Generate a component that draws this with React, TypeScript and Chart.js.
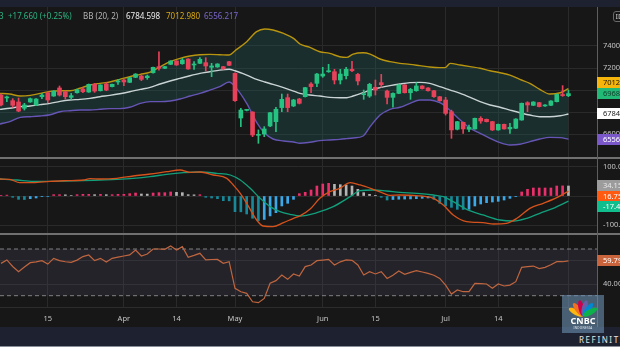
import React, { useEffect, useRef, useState } from 'react';
import { Chart, registerables } from 'chart.js';

Chart.register(...registerables);

// ---------- DATA ----------
const opens = [
  6956, 6930, 6905, 6893, 6836, 6893, 6866, 6941, 6977, 6947,
  7020, 6986, 6935, 6977, 7010, 6983, 7053, 6995, 7056, 7032,
  7074, 7092, 7071, 7116, 7128, 7113, 7158, 7213, 7198, 7234,
  7264, 7240, 7282, 7228, 7243, 7249, 7207, 7210, 7213, 7258,
  7152, 6748, 6817, 6802, 6591, 6603, 6676, 6715, 6842, 6932,
  6857, 6920, 6941, 7056, 7062, 7128, 7167, 7167, 7092, 7131,
  7189, 7143, 6959, 6947, 7026, 7068, 6992, 6935, 6971, 7047,
  6977, 6995, 7038, 7020, 6995, 6941, 6911, 6805, 6646, 6709,
  6646, 6649, 6745, 6736, 6715, 6640, 6691, 6649, 6655, 6730,
  6887, 6863, 6887, 6857, 6863, 6896, 6956, 6950,
];
const highs = [
  6965, 6947, 6923, 6929, 6881, 6929, 6923, 6971, 6986, 6995,
  7038, 6992, 6971, 7010, 7023, 7056, 7062, 7050, 7068, 7056,
  7098, 7101, 7116, 7150, 7137, 7137, 7210, 7348, 7216, 7267,
  7267, 7288, 7285, 7258, 7294, 7294, 7243, 7240, 7216, 7261,
  7158, 6836, 6827, 6805, 6640, 6670, 6800, 6845, 6965, 6965,
  6917, 6926, 7026, 7068, 7152, 7207, 7234, 7189, 7189, 7207,
  7261, 7152, 7001, 7062, 7092, 7143, 7001, 6977, 7050, 7050,
  7017, 7068, 7041, 7023, 6998, 6944, 6935, 6820, 6718, 6712,
  6685, 6748, 6760, 6739, 6718, 6694, 6694, 6700, 6742, 6884,
  6896, 6896, 6890, 6869, 6905, 6965, 7041, 7001,
];
const lows = [
  6857, 6896, 6845, 6805, 6820, 6890, 6860, 6923, 6887, 6944,
  6947, 6920, 6917, 6974, 6977, 6980, 6980, 6992, 6995, 7030,
  7053, 7041, 7068, 7113, 7086, 7098, 7155, 7182, 7195, 7231,
  7225, 7234, 7189, 7189, 7240, 7173, 7122, 7207, 7189, 7222,
  6899, 6670, 6812, 6579, 6519, 6579, 6670, 6624, 6805, 6805,
  6851, 6875, 6938, 6977, 7032, 7116, 7161, 7056, 7056, 7101,
  7167, 7047, 6917, 6935, 6956, 7026, 6875, 6845, 6968, 6974,
  6917, 6990, 7010, 6990, 6935, 6899, 6775, 6564, 6640, 6609,
  6624, 6646, 6700, 6712, 6634, 6637, 6646, 6609, 6652, 6727,
  6805, 6860, 6848, 6854, 6860, 6893, 6944, 6941,
];
const closes = [
  6866, 6935, 6863, 6811, 6866, 6923, 6920, 6956, 6911, 6992,
  6956, 6941, 6950, 7004, 6986, 7053, 6992, 7047, 7001, 7053,
  7083, 7074, 7113, 7146, 7098, 7128, 7207, 7198, 7213, 7264,
  7228, 7273, 7192, 7234, 7279, 7219, 7219, 7237, 7192, 7225,
  6905, 6820, 6822, 6594, 6600, 6649, 6796, 6827, 6917, 6842,
  6911, 6881, 7023, 7032, 7146, 7146, 7176, 7092, 7146, 7189,
  7176, 7083, 6965, 7053, 7001, 7050, 6935, 6971, 7047, 6977,
  7007, 7038, 7014, 6995, 6941, 6905, 6790, 6640, 6715, 6649,
  6664, 6745, 6721, 6715, 6640, 6691, 6649, 6664, 6739, 6881,
  6866, 6893, 6851, 6866, 6902, 6962, 6951.123, 6968.783,
];

// Bollinger Bands (20, 2), sampled along the candle index axis
const bbX = [
  -0.2, 1.5, 3.3, 5, 6.7, 8.4, 10.1, 11.8, 13.5, 15.2,
  16.9, 18.6, 20.3, 22, 23.8, 25.5, 27.2, 28.9, 30.6, 32.3,
  34, 35.7, 37.4, 39, 40, 42, 43.7, 45.1, 46.5, 48.3,
  50, 51.1, 52.8, 54.5, 56.2, 57.9, 59.1, 60.2, 61.9, 63.1,
  64.8, 66.5, 68.2, 69.9, 71.6, 73.3, 75, 75.9, 76.8, 78.5,
  80.2, 81.9, 83.6, 85.3, 87, 88.7, 90.4, 92.1, 93.8, 95.6,
  97,
];
const bbUpper = [
  6971, 6965, 6947, 6953, 6971, 6989, 6995, 6995, 7017, 7047,
  7062, 7074, 7098, 7122, 7143, 7164, 7213, 7258, 7288, 7309,
  7321, 7324, 7321, 7318, 7357, 7439, 7530, 7554, 7545, 7514,
  7469, 7418, 7388, 7348, 7333, 7303, 7297, 7327, 7339, 7327,
  7282, 7258, 7243, 7234, 7222, 7210, 7204, 7204, 7243, 7228,
  7213, 7198, 7176, 7158, 7137, 7098, 7062, 7007, 6965, 6977,
  7012.98,
];
const bbMiddle = [
  6826, 6836, 6851, 6857, 6869, 6881, 6899, 6911, 6917, 6926,
  6941, 6953, 6968, 6986, 7007, 7026, 7056, 7083, 7107, 7131,
  7152, 7167, 7182, 7189, 7176, 7137, 7098, 7074, 7053, 7023,
  6992, 6971, 6956, 6947, 6935, 6932, 6932, 6947, 6977, 7001,
  7023, 7041, 7056, 7068, 7071, 7062, 7032, 7017, 7001, 6971,
  6935, 6896, 6866, 6845, 6820, 6796, 6775, 6760, 6760, 6769,
  6784.598,
];
const bbLower = [
  6694, 6715, 6754, 6760, 6766, 6778, 6805, 6814, 6820, 6820,
  6827, 6833, 6833, 6845, 6881, 6896, 6896, 6902, 6920, 6947,
  6971, 7001, 7032, 7074, 7032, 6881, 6709, 6609, 6558, 6540,
  6531, 6519, 6528, 6543, 6549, 6555, 6561, 6567, 6585, 6670,
  6775, 6827, 6845, 6881, 6911, 6911, 6887, 6857, 6815, 6730,
  6655, 6609, 6564, 6525, 6504, 6510, 6534, 6558, 6573, 6570,
  6556.217,
];

// MACD
const macdX = [
  -0.2, 1.5, 3.2, 5.5, 8.4, 11.2, 14.1, 15.2, 16.9, 19.8,
  22.6, 25.5, 28.3, 30.6, 32.3, 34, 36.3, 38.6, 39.7, 40.9,
  42, 43.7, 44.8, 46.5, 48.3, 50, 51.1, 52.8, 54.5, 56.2,
  57.9, 59.7, 61.4, 63.6, 65.4, 66.5, 68.2, 71.1, 73.9, 75.6,
  77.3, 79.6, 82.4, 84.2, 86.4, 88.2, 90.4, 92.7, 95, 97,
];
const macdLine = [
  58, 56.9, 45.5, 45.5, 50.1, 52.4, 54.6, 59.2, 58, 60.3,
  68.3, 75.1, 83.1, 88.8, 80.8, 81.9, 71.7, 60.3, 37.6, 9.1,
  -25, -81.9, -102.4, -104.6, -91, -76.2, -68, -45.5, -8, 14.8,
  26.2, 45.5, 37.6, 22.8, 9.1, 2.3, 3.4, 1.2, -8, -30.7,
  -64.8, -87.6, -91, -95.5, -93.3, -76.2, -42.1, -25, -5.7, 16.75,
];
const signalX = [
  -0.2, 2.7, 5.5, 8.4, 11.2, 14.1, 16.9, 19.8, 22.6, 25.5,
  28.3, 31.2, 34, 36.9, 39.2, 40.9, 42.6, 44.3, 46, 47.7,
  49.4, 51.1, 54, 56.8, 59.7, 61.4, 63.6, 65.9, 68.2, 71.1,
  73.9, 75.6, 77.3, 79.6, 82.4, 85.3, 87.6, 89.9, 92.1, 94.4,
  97,
];
const signalLine = [
  58, 54.6, 50.1, 50.1, 51.2, 52.4, 54.6, 56.9, 60.3, 66,
  74, 79.7, 81.9, 77.4, 71.7, 54.6, 26.2, -8, -36.4, -53.4,
  -62.5, -68.2, -56.9, -36.4, -2.3, 18.2, 20.5, 17.1, 12.5, 9.1,
  3.4, -2.3, -19.3, -45.5, -64.8, -81.9, -85.3, -76.2, -59.1, -42.1,
  -17.4,
];
const histogram = [
  1, 3, -4.5, -11.4, -12, -9.1, -6.8, -2.3, -1.5, 4.5,
  4.5, 4, 1.5, 4.5, 5.7, 5.7, 4.5, 5.7, 4.5, 4.5,
  5.7, 5.7, 8, 10.2, 6.8, 6.5, 10.2, 11.4, 11.4, 13.7,
  12.5, 11.4, 4.5, 4, 4.5, -4.5, -6.8, -9.1, -15.9, -16.5,
  -53.5, -54, -61.4, -76, -84, -80, -68, -57, -34, -25,
  -11.4, 8, 12.5, 20.5, 34.1, 41, 43.2, 39.8, 38.7, 37.5,
  34.1, 22.8, 11.4, 5.7, 1, -4.5, -13.7, -12, -11, -10.5,
  -10, -9.1, -8, -6.8, -11.4, -25, -34.1, -38.7, -45.5, -46,
  -45.5, -34.1, -27.3, -22.8, -20.5, -18.2, -13.7, -8, -2.3, 13.7,
  22.8, 27.3, 27.3, 27.3, 27.3, 34.1, 34.5, 34.15,
];

// RSI
const rsi = [
  57.7, 60.6, 55, 50.6, 54.5, 58.3, 59, 60, 57.1, 62,
  60, 59.1, 58.6, 60.5, 63.5, 64.9, 60, 62, 58.9, 62,
  63, 64, 64.9, 69.1, 64, 65.7, 70, 70, 69.7, 72.6,
  69.1, 72, 62.9, 64.5, 66.3, 60.6, 61, 61.1, 57.7, 59.1,
  36.3, 33.4, 32, 24.8, 24, 27.7, 40.6, 42.9, 47.7, 44,
  48.6, 46.8, 54.9, 56.3, 60, 60.5, 61.1, 56.3, 59, 60.6,
  60.3, 56.3, 47.7, 50.6, 48.6, 50.6, 44.8, 47.5, 51.1, 48.3,
  50, 51.4, 50.3, 49.1, 47.5, 44.8, 39.1, 31.4, 34.9, 33.4,
  33.4, 40.6, 40.3, 40, 36.3, 40, 38.3, 39.1, 42, 54.3,
  54.9, 55.4, 53.2, 54.3, 56.5, 59.1, 59.1, 59.79,
];
const rsiBounds = [30, 70];

// Axis ticks (the last grid line has its label hidden under the logo)
const tickIndex = [8, 21, 30, 40, 55, 64, 76, 85, 97];
const tickLabels = ['15', 'Apr', '14', 'May', 'Jun', '15', 'Jul', '14', ''];
const priceTicks = [6600, 6800, 7000, 7200, 7400];
const macdTicks = [-100, 0, 100];
const rsiTicks = [40, 60];

// ---------- STYLE / LAYOUT ----------
const W = 620;
const H = 347;
const X_MIN = -0.171;
const X_MAX = 101.88;
const BG = '#171717';
const NAVY = '#1e2230';
const GRID = '#2a2a2a';
const UP = '#26c281';
const DOWN = '#e8415a';
const FONT = '"Noto Sans", "Open Sans", Roboto, sans-serif';
const AXIS_TEXT = '#c4c4c4';
const PRICE_TOP = 7;
const PRICE_H = 150;
const MACD_TOP = 159;
const MACD_H = 74;
const RSI_TOP = 235;
const RSI_H = 92;
const AXIS_X = 597;

type Tag = { y: number; text: string; bg: string; fg: string };

function xAxis(withLabels: boolean) {
  return {
    type: 'linear',
    min: X_MIN,
    max: X_MAX,
    offset: false,
    afterBuildTicks: (s: any) => {
      s.ticks = tickIndex.map((v) => ({ value: v }));
    },
    afterFit: (s: any) => {
      s.height = withLabels ? 20 : 0;
      s.paddingLeft = 0;
      s.paddingRight = 0;
    },
    grid: { color: GRID, drawTicks: false, offset: false, lineWidth: 1 },
    border: { display: false },
    ticks: {
      display: withLabels,
      autoSkip: false,
      maxRotation: 0,
      padding: 7,
      color: AXIS_TEXT,
      font: { size: 7.5, family: FONT },
      callback: (v: any) => {
        const k = tickIndex.indexOf(Number(v));
        return k >= 0 ? tickLabels[k] : '';
      },
    },
  };
}

function yAxis(min: number, max: number, ticks: number[], fmt: (v: number) => string) {
  return {
    position: 'right',
    min,
    max,
    afterBuildTicks: (s: any) => {
      s.ticks = ticks.map((v) => ({ value: v }));
    },
    afterFit: (s: any) => {
      s.width = W - AXIS_X;
      s.paddingTop = 0;
      s.paddingBottom = 0;
    },
    grid: { color: GRID, drawTicks: false },
    border: { display: false },
    ticks: {
      padding: 6,
      color: AXIS_TEXT,
      font: { size: 7.5, family: FONT },
      callback: (v: any) => fmt(Number(v)),
    },
  };
}

function baseOptions(scales: any) {
  return {
    responsive: false,
    animation: false,
    events: [],
    layout: { padding: 0, autoPadding: false },
    plugins: { legend: { display: false }, tooltip: { enabled: false } },
    scales,
  } as any;
}

const pts = (xs: number[], ys: number[]) => xs.map((x, i) => ({ x, y: ys[i] }));

function stackTags(items: Tag[], h: number, up: boolean): Tag[] {
  const sorted = [...items].sort((a, b) => (up ? b.y - a.y : a.y - b.y));
  const out: Tag[] = [];
  sorted.forEach((t, i) => {
    let y = t.y;
    if (i > 0) {
      const prev = out[i - 1].y;
      y = up ? Math.min(y, prev - h) : Math.max(y, prev + h);
    }
    out.push({ ...t, y });
  });
  return out;
}

export default function App() {
  const priceRef = useRef<HTMLCanvasElement>(null);
  const macdRef = useRef<HTMLCanvasElement>(null);
  const rsiRef = useRef<HTMLCanvasElement>(null);
  const [tags, setTags] = useState<Tag[]>([]);

  const last = closes.length - 1;
  const change = closes[last] - closes[last - 1];
  const pct = (change / closes[last - 1]) * 100;
  const bl = bbUpper.length - 1;

  useEffect(() => {
    const candleColors = opens.map((o, i) => (closes[i] >= o ? UP : DOWN));
    const price = new Chart(priceRef.current as HTMLCanvasElement, {
      type: 'bar',
      data: {
        datasets: [
          {
            type: 'line',
            data: pts(bbX, bbUpper),
            borderColor: '#b8940f',
            borderWidth: 1.4,
            pointRadius: 0,
            cubicInterpolationMode: 'monotone',
            fill: 2,
            backgroundColor: 'rgba(34, 98, 98, 0.3)',
            order: 5,
          },
          {
            type: 'line',
            data: pts(bbX, bbMiddle),
            borderColor: '#c9d3d3',
            borderWidth: 1.4,
            pointRadius: 0,
            cubicInterpolationMode: 'monotone',
            fill: false,
            order: 4,
          },
          {
            type: 'line',
            data: pts(bbX, bbLower),
            borderColor: '#6655b5',
            borderWidth: 1.4,
            pointRadius: 0,
            cubicInterpolationMode: 'monotone',
            fill: false,
            order: 3,
          },
          {
            type: 'bar',
            data: opens.map((_, i) => ({ x: i, y: [lows[i], highs[i]] })),
            backgroundColor: candleColors,
            barThickness: 1,
            grouped: false,
            order: 2,
          },
          {
            type: 'bar',
            data: opens.map((o, i) => ({ x: i, y: [o, closes[i]] })),
            backgroundColor: candleColors,
            barThickness: 4,
            minBarLength: 1,
            grouped: false,
            order: 1,
          },
        ],
      } as any,
      options: baseOptions({
        x: xAxis(false),
        y: yAxis(6395, 7753, priceTicks, (v) => String(v)),
      }),
    });

    const histColors = histogram.map((h, i) => {
      const p = i > 0 ? histogram[i - 1] : 0;
      if (h >= 0) return h >= p ? '#e9306c' : '#b4b4b4';
      return h < p ? '#17899a' : '#3ba8ea';
    });
    const macd = new Chart(macdRef.current as HTMLCanvasElement, {
      type: 'bar',
      data: {
        datasets: [
          {
            type: 'bar',
            data: histogram.map((h, i) => ({ x: i, y: h })),
            backgroundColor: histColors,
            barThickness: 2,
            grouped: false,
            order: 3,
          },
          {
            type: 'line',
            data: pts(signalX, signalLine),
            borderColor: '#12a07c',
            borderWidth: 1.3,
            pointRadius: 0,
            cubicInterpolationMode: 'monotone',
            order: 2,
          },
          {
            type: 'line',
            data: pts(macdX, macdLine),
            borderColor: '#d6521c',
            borderWidth: 1.3,
            pointRadius: 0,
            cubicInterpolationMode: 'monotone',
            order: 1,
          },
        ],
      } as any,
      options: baseOptions({
        x: xAxis(false),
        y: yAxis(-126.3, 126.3, macdTicks, (v) => v.toFixed(1)),
      }),
    });

    const rsiChart = new Chart(rsiRef.current as HTMLCanvasElement, {
      type: 'line',
      data: {
        datasets: [
          {
            data: [
              { x: X_MIN, y: rsiBounds[1] },
              { x: X_MAX, y: rsiBounds[1] },
            ],
            borderColor: '#808080',
            borderDash: [4, 3],
            borderWidth: 1,
            pointRadius: 0,
            fill: 1,
            backgroundColor: 'rgba(95, 85, 120, 0.2)',
            order: 3,
          },
          {
            data: [
              { x: X_MIN, y: rsiBounds[0] },
              { x: X_MAX, y: rsiBounds[0] },
            ],
            borderColor: '#808080',
            borderDash: [4, 3],
            borderWidth: 1,
            pointRadius: 0,
            fill: false,
            order: 2,
          },
          {
            data: rsi.map((v, i) => ({ x: i, y: v })),
            borderColor: '#c0663f',
            borderWidth: 1.2,
            pointRadius: 0,
            tension: 0,
            fill: false,
            order: 1,
          },
        ],
      } as any,
      options: baseOptions({
        x: xAxis(true),
        y: yAxis(20.3, 82, rsiTicks, (v) => v.toFixed(2)),
      }),
    });

    const py = (c: any, v: number, top: number) => top + c.scales.y.getPixelForValue(v);
    const priceTags = stackTags(
      [
        { y: py(price, bbUpper[bl], PRICE_TOP), text: bbUpper[bl].toFixed(3), bg: '#f5b50a', fg: '#1d1600' },
        { y: py(price, closes[last], PRICE_TOP), text: closes[last].toFixed(3), bg: '#22b977', fg: '#123d2a' },
        { y: py(price, bbMiddle[bl], PRICE_TOP), text: bbMiddle[bl].toFixed(3), bg: '#ffffff', fg: '#222222' },
        { y: py(price, bbLower[bl], PRICE_TOP), text: bbLower[bl].toFixed(3), bg: '#7b58c9', fg: '#ffffff' },
      ],
      11,
      true
    );
    const macdTags = stackTags(
      [
        { y: py(macd, histogram[last], MACD_TOP), text: histogram[last].toFixed(2), bg: '#9c9c9c', fg: '#e8e8e8' },
        { y: py(macd, macdLine[macdLine.length - 1], MACD_TOP), text: macdLine[macdLine.length - 1].toFixed(2), bg: '#ff5a12', fg: '#ffffff' },
        { y: py(macd, signalLine[signalLine.length - 1], MACD_TOP), text: signalLine[signalLine.length - 1].toFixed(2), bg: '#10bd8c', fg: '#ffffff' },
      ],
      10.5,
      false
    );
    const rsiTag: Tag = { y: py(rsiChart, rsi[last], RSI_TOP), text: rsi[last].toFixed(2), bg: '#c9643c', fg: '#ffffff' };
    setTags([...priceTags, ...macdTags, rsiTag]);

    return () => {
      price.destroy();
      macd.destroy();
      rsiChart.destroy();
    };
  }, []);

  const abs = (s: any) => ({ position: 'absolute', ...s } as React.CSSProperties);
  const legendText = (left: number, color: string, text: string) => (
    <span style={abs({ left, top: 10, fontSize: 8, lineHeight: '11px', color, whiteSpace: 'nowrap' })}>{text}</span>
  );

  const feathers = ['#fcb711', '#f37021', '#cc004c', '#6460aa', '#0089d0', '#0db14b'];

  return (
    <div style={abs({ position: 'fixed', left: 0, top: 0, width: W, height: H, overflow: 'hidden', background: BG, fontFamily: FONT })}>
      <div style={abs({ left: 0, top: 0, width: W, height: 6.5, background: NAVY })} />
      <canvas ref={priceRef} width={W} height={PRICE_H} style={abs({ left: 0, top: PRICE_TOP })} />
      <canvas ref={macdRef} width={W} height={MACD_H} style={abs({ left: 0, top: MACD_TOP })} />
      <canvas ref={rsiRef} width={W} height={RSI_H} style={abs({ left: 0, top: RSI_TOP })} />

      {/* panel separators */}
      <div style={abs({ left: 0, top: 157, width: W, height: 1.8, background: '#707070' })} />
      <div style={abs({ left: 0, top: 233.2, width: W, height: 1.8, background: '#707070' })} />
      <div style={abs({ left: 0, top: 306.5, width: AXIS_X, height: 1, background: '#2c2c2c' })} />
      <div style={abs({ left: AXIS_X - 0.5, top: 6.5, width: 1.3, height: 320.5, background: '#5e5e5e' })} />

      {/* legend */}
      <span style={abs({ left: -40, top: 10, width: 43.5, textAlign: 'right', fontSize: 8, lineHeight: '11px', color: '#2bb582', whiteSpace: 'nowrap' })}>
        {closes[last].toFixed(3)}
      </span>
      {legendText(8, '#2bb582', `${change >= 0 ? '+' : ''}${change.toFixed(3)} (${pct >= 0 ? '+' : ''}${pct.toFixed(2)}%)`)}
      {legendText(83, '#b4b4b4', 'BB (20, 2)')}
      {legendText(126, '#ececec', bbMiddle[bl].toFixed(3))}
      {legendText(166, '#d6a812', bbUpper[bl].toFixed(3))}
      {legendText(204, '#7a66c8', bbLower[bl].toFixed(3))}

      {/* currency box top right */}
      <div style={abs({ left: 612.5, top: 10.5, width: 24, height: 11, border: '1px solid #6a6a6a', borderRadius: 3, boxSizing: 'border-box', fontSize: 7.5, lineHeight: '9px', color: '#d0d0d0', paddingLeft: 2 })}>IDR</div>

      {/* last-value tags */}
      {tags.map((t, i) => (
        <div
          key={i}
          style={abs({
            left: AXIS_X,
            top: t.y - 5.5,
            width: 32,
            height: 11,
            background: t.bg,
            color: t.fg,
            fontSize: 7.5,
            lineHeight: '11px',
            paddingLeft: 6,
            boxSizing: 'border-box',
            whiteSpace: 'nowrap',
            overflow: 'hidden',
          })}
        >
          {t.text}
        </div>
      ))}

      {/* bottom bar */}
      <div style={abs({ left: 0, top: 327, width: W, height: 20, background: NAVY })} />
      <div style={abs({ left: 0, top: 346, width: W, height: 1, background: '#8a8e98' })} />
      <span style={abs({ left: 579, top: 335, fontSize: 8, lineHeight: '10px', letterSpacing: 1.6, color: '#e6e6e6', whiteSpace: 'nowrap' })}>REFINITIV</span>

      {/* CNBC logo */}
      <div style={abs({ left: 562, top: 295, width: 42, height: 38, background: 'rgba(105, 140, 172, 0.62)' })}>
        <svg width={42} height={24} style={abs({ left: 0, top: 0 })}>
          {feathers.map((c, i) => (
            <ellipse key={i} cx={21} cy={13} rx={2.8} ry={8} fill={c} transform={`rotate(${-62 + i * 24.8} 21 21)`} />
          ))}
        </svg>
        <span style={abs({ left: 0, top: 21, width: 42, textAlign: 'center', fontSize: 9, fontWeight: 700, lineHeight: '10px', color: '#ffffff' })}>CNBC</span>
        <span style={abs({ left: 0, top: 31, width: 42, textAlign: 'center', fontSize: 3, lineHeight: '4px', color: '#e8eef4', letterSpacing: 0.3 })}>INDONESIA</span>
      </div>
    </div>
  );
}
